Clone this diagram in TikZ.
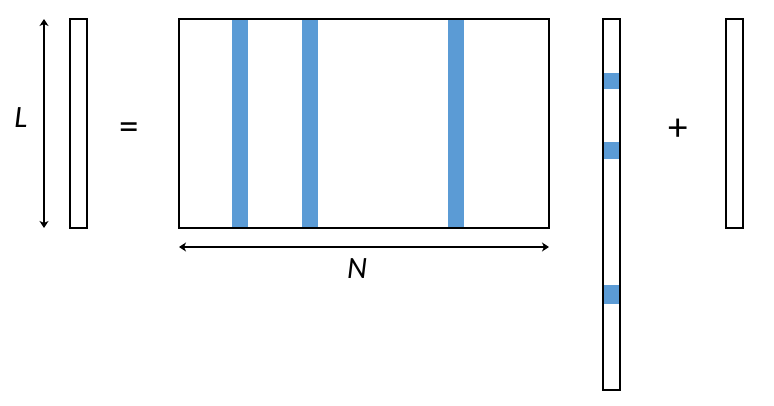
\documentclass[tikz,border=0pt]{standalone}
\usepackage{fontspec}
\setmainfont{Carlito}
\usetikzlibrary{arrows.meta}
\definecolor{barblue}{HTML}{5B9BD5}
\tikzset{
  box/.style={draw=black, line width=2pt, fill=none},
  bar/.style={fill=barblue, draw=none},
  dimarrow/.style={line width=1.8pt, {Stealth[length=7pt,width=9pt,inset=2pt]}-{Stealth[length=7pt,width=9pt,inset=2pt]}},
  lbl/.style={font=\fontsize{31}{31}\selectfont, inner sep=0pt},
  oplbl/.style={font=\fontsize{39}{39}\selectfont, inner sep=0pt}
}
\begin{document}
\begin{tikzpicture}[x=1pt,y=-1pt]
\useasboundingbox (0,0) rectangle (774,406);
% blue fills first
\fill[bar] (232,19) rectangle (248,228);
\fill[bar] (302,19) rectangle (318,228);
\fill[bar] (448,19) rectangle (464,228);
\fill[bar] (603,73) rectangle (620,89);
\fill[bar] (603,142) rectangle (620,159);
\fill[bar] (603,285) rectangle (620,304);
% boxes
\node[box, minimum width=17pt, minimum height=209pt, inner sep=0pt] (y) at (78.5,123.5) {};
\node[box, minimum width=370pt, minimum height=209pt, inner sep=0pt] (X) at (364,123.5) {};
\node[box, minimum width=17pt, minimum height=371pt, inner sep=0pt] (b) at (611.5,204.5) {};
\node[box, minimum width=17pt, minimum height=209pt, inner sep=0pt] (e) at (734,123.5) {};
% dimension arrows
\coordinate (Ltop) at (44,19);
\coordinate (Lbot) at (44,228);
\draw[dimarrow] (Ltop) -- (Lbot);
\coordinate (Nl) at (179,247);
\coordinate (Nr) at (549,247);
\draw[dimarrow] (Nl) -- (Nr);
% labels
\node[lbl] (L) at (21,118) {\textit{L}};
\node[lbl] (N) at (357,269) {\textit{N}};
\node[oplbl] (eq) at (129.5,131) {=};
\node[oplbl] (plus) at (678,130) {+};
\end{tikzpicture}
\end{document}
